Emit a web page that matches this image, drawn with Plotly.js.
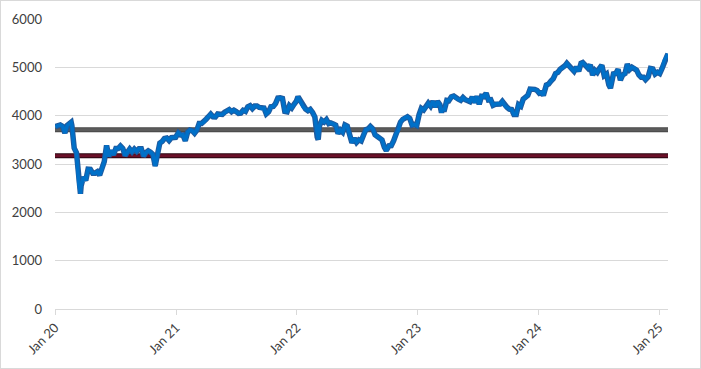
<!DOCTYPE html>
<html>
<head>
<meta charset="utf-8">
<script src="https://cdn.plot.ly/plotly-3.0.1.min.js"></script>
<style>
  html, body { margin: 0; padding: 0; background: #ffffff; }
  #wrap { position: relative; width: 701px; height: 369px; }
  #chart { position: absolute; left: 0; top: 0; width: 701px; height: 369px; }
  #frame { position: absolute; left: 0; top: 0; width: 699px; height: 367px; border: 1px solid #d9d9d9; pointer-events: none; }
</style>
</head>
<body>
<div id="wrap"><div id="chart"></div><div id="frame"></div></div>
<script>
// Index level (weekly-ish closes)
const dates = [
  '2020-01-02','2020-01-10','2020-01-17','2020-01-24','2020-01-31','2020-02-07','2020-02-14','2020-02-19','2020-02-21','2020-02-28',
  '2020-03-06','2020-03-13','2020-03-18','2020-03-20','2020-03-27','2020-04-03','2020-04-10','2020-04-17','2020-04-24','2020-05-01',
  '2020-05-08','2020-05-15','2020-05-22','2020-05-29','2020-06-05','2020-06-12','2020-06-19','2020-06-26','2020-07-03','2020-07-10',
  '2020-07-17','2020-07-24','2020-07-31','2020-08-07','2020-08-14','2020-08-21','2020-08-28','2020-09-04','2020-09-11','2020-09-18',
  '2020-09-25','2020-10-02','2020-10-09','2020-10-16','2020-10-23','2020-10-30','2020-11-06','2020-11-13','2020-11-20','2020-11-27',
  '2020-12-04','2020-12-11','2020-12-18','2020-12-24','2020-12-31',
  '2021-01-08','2021-01-15','2021-01-22','2021-01-29','2021-02-05','2021-02-12','2021-02-19','2021-02-26','2021-03-05','2021-03-12',
  '2021-03-19','2021-03-26','2021-04-02','2021-04-09','2021-04-16','2021-04-23','2021-04-30','2021-05-07','2021-05-14','2021-05-21',
  '2021-05-28','2021-06-04','2021-06-11','2021-06-18','2021-06-25','2021-07-02','2021-07-09','2021-07-16','2021-07-23','2021-07-30',
  '2021-08-06','2021-08-13','2021-08-20','2021-08-27','2021-09-03','2021-09-10','2021-09-17','2021-09-24','2021-10-01','2021-10-08',
  '2021-10-15','2021-10-22','2021-10-29','2021-11-05','2021-11-12','2021-11-19','2021-11-26','2021-12-03','2021-12-10','2021-12-17',
  '2021-12-24','2021-12-31',
  '2022-01-05','2022-01-14','2022-01-21','2022-01-28','2022-02-04','2022-02-11','2022-02-18','2022-02-25','2022-03-04','2022-03-07',
  '2022-03-11','2022-03-18','2022-03-25','2022-04-01','2022-04-08','2022-04-14','2022-04-22','2022-04-29','2022-05-06','2022-05-13',
  '2022-05-20','2022-05-27','2022-06-03','2022-06-10','2022-06-17','2022-06-24','2022-07-01','2022-07-08','2022-07-15','2022-07-22',
  '2022-07-29','2022-08-05','2022-08-12','2022-08-19','2022-08-26','2022-09-02','2022-09-09','2022-09-16','2022-09-23','2022-09-29',
  '2022-10-07','2022-10-14','2022-10-21','2022-10-28','2022-11-04','2022-11-11','2022-11-18','2022-11-25','2022-12-02','2022-12-09',
  '2022-12-16','2022-12-23','2022-12-30',
  '2023-01-06','2023-01-13','2023-01-20','2023-01-27','2023-02-03','2023-02-10','2023-02-17','2023-02-24','2023-03-03','2023-03-10',
  '2023-03-15','2023-03-17','2023-03-24','2023-03-31','2023-04-06','2023-04-14','2023-04-21','2023-04-28','2023-05-05','2023-05-12',
  '2023-05-19','2023-05-26','2023-06-02','2023-06-09','2023-06-16','2023-06-23','2023-06-30','2023-07-07','2023-07-14','2023-07-21',
  '2023-07-28','2023-08-04','2023-08-11','2023-08-18','2023-08-25','2023-09-01','2023-09-08','2023-09-15','2023-09-22','2023-09-29',
  '2023-10-06','2023-10-13','2023-10-20','2023-10-27','2023-11-03','2023-11-10','2023-11-17','2023-11-24','2023-12-01','2023-12-08',
  '2023-12-15','2023-12-22','2023-12-29',
  '2024-01-05','2024-01-12','2024-01-17','2024-01-26','2024-02-02','2024-02-09','2024-02-16','2024-02-23','2024-03-01','2024-03-08',
  '2024-03-15','2024-03-22','2024-03-28','2024-04-05','2024-04-12','2024-04-19','2024-04-26','2024-05-03','2024-05-10','2024-05-15',
  '2024-05-24','2024-05-31','2024-06-07','2024-06-14','2024-06-21','2024-06-28','2024-07-05','2024-07-12','2024-07-19','2024-07-26',
  '2024-08-02','2024-08-07','2024-08-16','2024-08-23','2024-08-30','2024-09-06','2024-09-13','2024-09-20','2024-09-27','2024-10-04',
  '2024-10-11','2024-10-18','2024-10-25','2024-11-01','2024-11-08','2024-11-15','2024-11-21','2024-11-29','2024-12-06','2024-12-13',
  '2024-12-20','2024-12-27',
  '2025-01-03','2025-01-10','2025-01-17','2025-01-24','2025-01-28'
];
const values = [
  3773,3795,3808,3779,3640,3798,3840,3865,3800,3329,
  3232,2586,2385,2549,2728,2662,2893,2888,2810,2810,
  2841,2770,2905,3050,3384,3154,3280,3189,3320,3320,
  3373,3324,3175,3252,3310,3250,3309,3260,3316,3315,
  3158,3236,3273,3245,3200,2958,3209,3433,3467,3527,
  3539,3487,3545,3544,3553,
  3645,3599,3602,3481,3656,3703,3689,3636,3701,3837,
  3837,3867,3927,3978,4032,3976,3975,4035,4017,4025,
  4071,4093,4127,4083,4114,4084,4048,4053,4110,4089,
  4184,4206,4146,4199,4201,4170,4150,4158,4036,4078,
  4183,4189,4250,4363,4370,4356,4089,4080,4208,4161,
  4234,4298,
  4392,4272,4176,4137,4102,4131,4067,3971,3556,3505,
  3793,3903,3867,3918,3835,3849,3826,3803,3629,3703,
  3657,3807,3783,3599,3438,3533,3448,3500,3477,3596,
  3708,3725,3776,3730,3604,3570,3540,3500,3349,3279,
  3376,3381,3477,3613,3688,3868,3924,3962,3977,3942,
  3804,3817,3794,
  4017,4151,4119,4178,4258,4199,4297,4178,4295,4229,
  4060,4131,4130,4315,4309,4391,4408,4359,4340,4318,
  4375,4329,4323,4290,4387,4271,4399,4235,4400,4391,
  4466,4323,4330,4214,4236,4250,4240,4295,4207,4175,
  4136,4128,4025,4024,4230,4197,4340,4379,4418,4549,
  4551,4544,4522,
  4464,4480,4420,4635,4655,4716,4765,4872,4895,4962,
  4986,5031,5083,5014,4955,4918,5006,4921,5085,5100,
  5036,4983,5051,4839,4938,4894,4979,5043,4828,4862,
  4638,4571,4864,4871,4958,4737,4842,4872,5067,4954,
  5001,4986,4943,4844,4795,4795,4745,4804,4978,4968,
  4863,4899,
  4871,4977,5148,5219,5280
];

// Horizontal reference levels
const refNames = ['Level A', 'Level B'];
const refLevels = [3710, 3170];
const refSpan = ['2020-01-01', '2025-01-28'];

// Axis ticks
const yTicks = [0, 1000, 2000, 3000, 4000, 5000, 6000];
const xTickVals = ['2020-01-01','2021-01-01','2022-01-01','2023-01-01','2024-01-01','2025-01-01'];
const xTickText = ['Jan 20','Jan 21','Jan 22','Jan 23','Jan 24','Jan 25'];

const traces = [
  { x: refSpan, y: [refLevels[0], refLevels[0]], mode: 'lines', name: refNames[0],
    line: { color: '#474747', width: 5 }, hoverinfo: 'skip' },
  { x: refSpan, y: [refLevels[0], refLevels[0]], mode: 'lines', name: refNames[0],
    line: { color: '#5c5c5c', width: 3 }, hoverinfo: 'skip' },
  { x: refSpan, y: [refLevels[1], refLevels[1]], mode: 'lines', name: refNames[1],
    line: { color: '#2a0610', width: 5 }, hoverinfo: 'skip' },
  { x: refSpan, y: [refLevels[1], refLevels[1]], mode: 'lines', name: refNames[1],
    line: { color: '#6a1028', width: 3 }, hoverinfo: 'skip' },
  { x: dates, y: values, mode: 'lines', name: 'Index',
    line: { color: '#1f5a9e', width: 5.5 } },
  { x: dates, y: values, mode: 'lines', name: 'Index',
    line: { color: '#0070c8', width: 3.5 } }
];

const tickFont = { family: 'Lato, "Open Sans", sans-serif', size: 13, color: '#404040' };

const layout = {
  width: 701, height: 369,
  margin: { l: 55, r: 33, t: 19, b: 60 },
  paper_bgcolor: '#ffffff', plot_bgcolor: '#ffffff',
  showlegend: false,
  font: tickFont,
  xaxis: {
    type: 'date',
    range: ['2020-01-01', '2025-01-28'],
    tickvals: xTickVals, ticktext: xTickText,
    tickangle: -45,
    ticks: 'outside', ticklen: 5, tickcolor: '#d9d9d9', tickwidth: 1,
    showline: true, linecolor: '#d9d9d9', linewidth: 1,
    showgrid: false, zeroline: false,
    tickfont: tickFont
  },
  yaxis: {
    range: [0, 6000],
    tickvals: yTicks,
    showgrid: true, gridcolor: '#d9d9d9', gridwidth: 1,
    zeroline: false, showline: false, ticks: '',
    ticklabelstandoff: 12,
    tickfont: tickFont
  }
};

Plotly.newPlot('chart', traces, layout, { displayModeBar: false, staticPlot: true });
</script>
</body>
</html>
